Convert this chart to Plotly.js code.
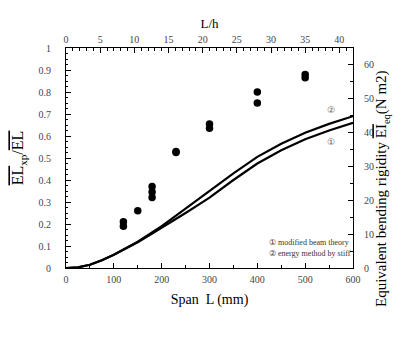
<!DOCTYPE html>
<html>
<head>
<meta charset="utf-8">
<script src="https://cdn.plot.ly/plotly-3.0.1.min.js"></script>
<style>html,body{margin:0;padding:0;background:#fff;}#chart{width:409px;height:351px;}</style>
</head>
<body>
<div id="chart"></div>
<script>
// Experimental points: span L (mm) and ratio EI_exp / EI_L
var spanExp = [120, 120, 150, 180, 180, 180, 230, 230, 300, 300, 400, 400, 500, 500];
var ratioExp = [0.21, 0.19, 0.26, 0.37, 0.345, 0.32, 0.53, 0.525, 0.655, 0.635, 0.80, 0.75, 0.88, 0.865];

// Theory curves
var spanCurve = [0, 25, 50, 75, 100, 125, 150, 175, 200, 225, 250, 275, 300, 350, 400, 450, 500, 550, 600];
var curveEnergy = [0, 0.003, 0.015, 0.035, 0.06, 0.09, 0.12, 0.155, 0.19, 0.23, 0.27, 0.31, 0.35, 0.43, 0.505, 0.565, 0.615, 0.655, 0.69];
var curveBeam = [0, 0.003, 0.015, 0.035, 0.06, 0.088, 0.117, 0.15, 0.183, 0.215, 0.25, 0.285, 0.32, 0.40, 0.475, 0.535, 0.585, 0.625, 0.66];

// Axis ranges / labels
var spanRange = [0, 600];
var slenderRange = [0, 42];
var ratioRange = [0, 1];
var rigidityRange = [0, 65];
var legendLines = ["\u2460 modified beam theory", "\u2461 energy method by stiff"];
var curveTags = ["\u2461", "\u2460"];
var rightTitle = "Equivalent bending rigidity <span style='text-decoration:overline'>EI</span><sub>eq</sub>(N m2)";

var font = "Liberation Serif, Times New Roman, serif";

var traces = [
  {x: spanCurve, y: curveEnergy, mode: "lines", line: {color: "#000", width: 2.2}, hoverinfo: "skip"},
  {x: spanCurve, y: curveBeam, mode: "lines", line: {color: "#000", width: 2.2}, hoverinfo: "skip"},
  {x: spanExp, y: ratioExp, mode: "markers", marker: {color: "#000", size: 7.5}},
  // transparent carrier so the secondary (top / right) axes are drawn
  {x: slenderRange, y: rigidityRange, xaxis: "x2", yaxis: "y2", mode: "markers", marker: {opacity: 0}, hoverinfo: "skip"}
];

var axisCommon = {
  showline: true, linecolor: "#000", linewidth: 1, mirror: false,
  ticks: "inside", ticklen: 5, tickcolor: "#000", showgrid: false, zeroline: false,
  tickfont: {family: font, size: 10, color: "#444"}
};

var layout = {
  width: 409, height: 351,
  margin: {l: 66, r: 56, t: 48, b: 83},
  paper_bgcolor: "#fff", plot_bgcolor: "#fff",
  showlegend: false,
  font: {family: font, color: "#000"},
  xaxis: Object.assign({}, axisCommon, {
    range: spanRange, dtick: 100, tick0: 0,
    minor: {dtick: 50, ticks: "inside", ticklen: 3, tickcolor: "#000"},
    ticklabelstandoff: 2,
    title: {text: "Span  L (mm)", font: {family: font, size: 14}, standoff: 10}
  }),
  xaxis2: Object.assign({}, axisCommon, {
    overlaying: "x", side: "top", anchor: "y",
    range: slenderRange, dtick: 5, tick0: 0,
    minor: {dtick: 1, ticks: "inside", ticklen: 3, tickcolor: "#000"},
    ticklabelstandoff: 0,
    title: {text: "L/h", font: {family: font, size: 13}, standoff: 2}
  }),
  yaxis: Object.assign({}, axisCommon, {
    range: ratioRange, dtick: 0.1, tick0: 0,
    minor: {dtick: 0.025, ticks: "inside", ticklen: 2, tickcolor: "#000"},
    ticklabelstandoff: 12,
    title: {text: "<span style='text-decoration:overline'>EL</span><sub>xp</sub>/<span style='text-decoration:overline'>EL</span>", font: {family: font, size: 16}, standoff: 10}
  }),
  yaxis2: Object.assign({}, axisCommon, {
    overlaying: "y", side: "right", anchor: "x",
    range: rigidityRange, dtick: 10, tick0: 0,
    minor: {dtick: 5, ticks: "inside", ticklen: 3, tickcolor: "#000"},
    ticklabelstandoff: 8
  }),
  annotations: [
    {x: 1.14, y: 0.36, xref: "paper", yref: "paper", text: rightTitle, textangle: -90, showarrow: false, font: {family: font, size: 15, color: "#000"}},
    {x: 555, y: 0.72, xref: "x", yref: "y", text: curveTags[0], showarrow: false, font: {family: font, size: 9, color: "#555"}},
    {x: 555, y: 0.575, xref: "x", yref: "y", text: curveTags[1], showarrow: false, font: {family: font, size: 9, color: "#555"}},
    {x: 420, y: 0.115, xref: "x", yref: "y", xanchor: "left", text: legendLines[0], showarrow: false, font: {family: font, size: 8, color: "#333"}},
    {x: 420, y: 0.065, xref: "x", yref: "y", xanchor: "left", text: legendLines[1], showarrow: false, font: {family: font, size: 8, color: "#333"}}
  ]
};

Plotly.newPlot("chart", traces, layout, {staticPlot: true, displayModeBar: false});
</script>
</body>
</html>
